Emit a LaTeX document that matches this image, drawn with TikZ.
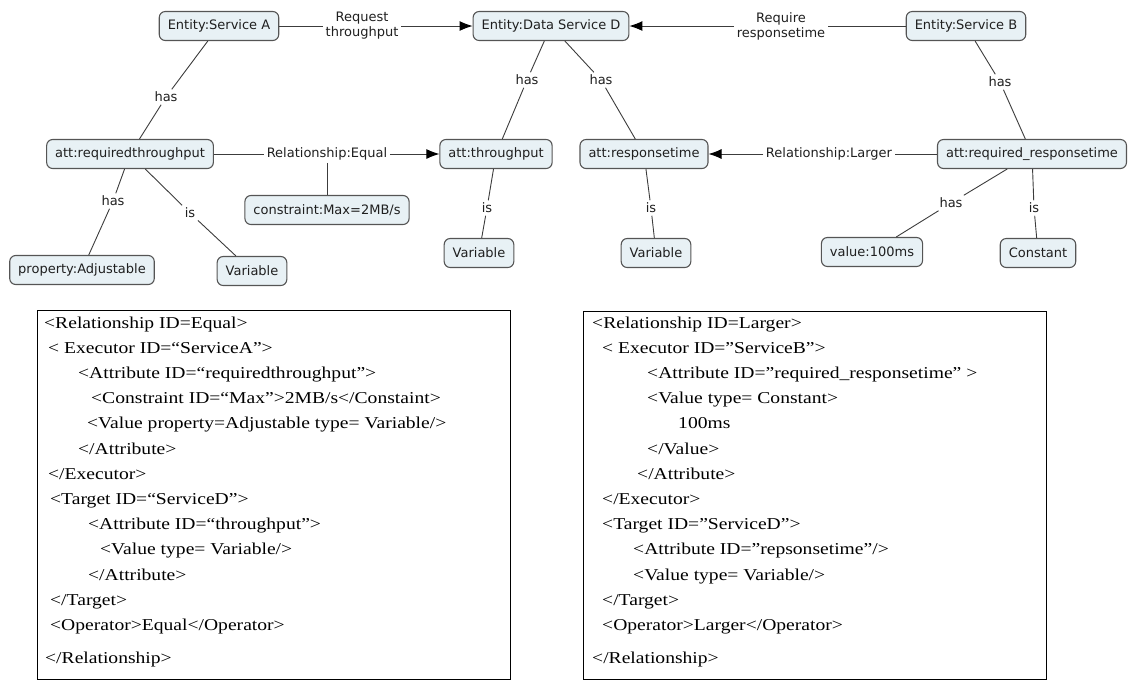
\documentclass[tikz,border=0pt]{standalone}
\usepackage{fontspec}
\usetikzlibrary{arrows.meta}
\newfontfamily\mapfont{DejaVu Sans}
\newfontfamily\xmlfont[FakeStretch=1.18]{Liberation Serif}
\definecolor{nodefill}{RGB}{232,241,245}
\definecolor{nodeline}{RGB}{85,85,85}
\definecolor{linkcol}{RGB}{60,60,60}

\begin{document}
\begin{tikzpicture}[x=1pt,y=-1pt,
  concept/.style={draw=nodeline, fill=nodefill, line width=1.1pt, rounded corners=6pt,
    font=\mapfont\fontsize{13}{15}\selectfont, minimum height=29pt,
    inner xsep=8.5pt, inner ysep=2pt, text=black!88},
  linklabel/.style={font=\mapfont\fontsize{13}{15}\selectfont, inner sep=2.5pt,
    align=center, text=black!88},
  link/.style={draw=linkcol, line width=0.9pt},
  arrowlink/.style={link, -{Latex[length=13pt,width=10pt,color=black]}},
  xmlbox/.style={draw=black, line width=1.2pt, inner sep=0pt},
  xml/.style={font=\xmlfont\fontsize{16.6}{19}\selectfont, anchor=base west, inner sep=0pt},
]
\useasboundingbox (0,0) rectangle (1132,681);

% ---- concept map: entities ----
\node[concept] (sa) at (219,26) {Entity:Service A};
\node[concept] (sd) at (551,26) {Entity:Data Service D};
\node[concept] (sb) at (966,26) {Entity:Service B};
\node[linklabel] (req) at (362,26) {Request\\throughput};
\node[linklabel] (rsp) at (781,26) {Require\\responsetime};

% ---- attributes ----
\node[concept] (rt) at (130,154) {att:requiredthroughput};
\node[linklabel] (eq) at (327,154) {Relationship:Equal};
\node[concept] (tp) at (496,154) {att:throughput};
\node[concept] (rs) at (644,154) {att:responsetime};
\node[linklabel] (lg) at (829,154) {Relationship:Larger};
\node[concept] (rr) at (1032,154) {att:required\_responsetime};
\node[concept] (cm) at (327,210) {constraint:Max=2MB/s};

% ---- values ----
\node[concept] (pa) at (82,270) {property:Adjustable};
\node[concept] (v1) at (252,271) {Variable};
\node[concept] (v2) at (479,253) {Variable};
\node[concept] (v3) at (656,253) {Variable};
\node[concept] (vm) at (872,252) {value:100ms};
\node[concept] (ct) at (1038,253) {Constant};

% ---- link phrases ----
\node[linklabel] (h1) at (166,97) {has};
\node[linklabel] (h2) at (527,80) {has};
\node[linklabel] (h3) at (601,80) {has};
\node[linklabel] (h4) at (1000,82) {has};
\node[linklabel] (h5) at (113,201) {has};
\node[linklabel] (i1) at (190,213) {is};
\node[linklabel] (i2) at (487,208) {is};
\node[linklabel] (i3) at (651,208) {is};
\node[linklabel] (h6) at (951,203) {has};
\node[linklabel] (i4) at (1034,208) {is};

% ---- connectors ----
\draw[link] (sa) -- (req);
\draw[arrowlink] (req) -- (sd);
\draw[link] (sb) -- (rsp);
\draw[arrowlink] (rsp) -- (sd);

\draw[link] (sa) -- (h1); \draw[link] (h1) -- (rt);
\draw[link] (sd) -- (h2); \draw[link] (h2) -- (tp);
\draw[link] (sd) -- (h3); \draw[link] (h3) -- (rs);
\draw[link] (sb) -- (h4); \draw[link] (h4) -- (rr);

\draw[link] (rt) -- (eq);
\draw[arrowlink] (eq) -- (tp);
\draw[link] (eq) -- (cm);
\draw[link] (rr) -- (lg);
\draw[arrowlink] (lg) -- (rs);

\draw[link] (rt) -- (h5); \draw[link] (h5) -- (pa);
\draw[link] (rt) -- (i1); \draw[link] (i1) -- (v1);
\draw[link] (tp) -- (i2); \draw[link] (i2) -- (v2);
\draw[link] (rs) -- (i3); \draw[link] (i3) -- (v3);
\draw[link] (rr) -- (h6); \draw[link] (h6) -- (vm);
\draw[link] (rr) -- (i4); \draw[link] (i4) -- (ct);

% ---- XML listings ----
\node[xmlbox, anchor=north west, minimum width=473pt, minimum height=369pt] (lbox) at (37,310) {};
\node[xmlbox, anchor=north west, minimum width=463pt, minimum height=368pt] (rbox) at (583,311) {};

\node[xml] (l1)  at (44,328)    {<Relationship ID=Equal>};
\node[xml] (l2)  at (48,353.2)  {< Executor ID=“ServiceA”>};
\node[xml] (l3)  at (78,378.4)  {<Attribute ID=“requiredthroughput”>};
\node[xml] (l4)  at (91,403.6)  {<Constraint ID=“Max”>2MB/s</Constaint>};
\node[xml] (l5)  at (87,428.8)  {<Value property=Adjustable type= Variable/>};
\node[xml] (l6)  at (78,454)    {</Attribute>};
\node[xml] (l7)  at (48,479.2)  {</Executor>};
\node[xml] (l8)  at (50,504.4)  {<Target ID=“ServiceD”>};
\node[xml] (l9)  at (88,529.6)  {<Attribute ID=“throughput”>};
\node[xml] (l10) at (100,554.8) {<Value type= Variable/>};
\node[xml] (l11) at (88,580)    {</Attribute>};
\node[xml] (l12) at (50,605.2)  {</Target>};
\node[xml] (l13) at (50,630.4)  {<Operator>Equal</Operator>};
\node[xml] (l14) at (45,663)    {</Relationship>};

\node[xml] (r1)  at (592,328)   {<Relationship ID=Larger>};
\node[xml] (r2)  at (602,353.2) {< Executor ID=”ServiceB”>};
\node[xml] (r3)  at (647,378.4) {<Attribute ID=”required\_responsetime” >};
\node[xml] (r4)  at (647,403.6) {<Value type= Constant>};
\node[xml] (r5)  at (678,428.8) {100ms};
\node[xml] (r6)  at (647,454)   {</Value>};
\node[xml] (r7)  at (637,479.2) {</Attribute>};
\node[xml] (r8)  at (602,504.4) {</Executor>};
\node[xml] (r9)  at (602,529.6) {<Target ID=”ServiceD”>};
\node[xml] (r10) at (633,554.8) {<Attribute ID=”repsonsetime”/>};
\node[xml] (r11) at (633,580)   {<Value type= Variable/>};
\node[xml] (r12) at (602,605.2) {</Target>};
\node[xml] (r13) at (602,630.4) {<Operator>Larger</Operator>};
\node[xml] (r14) at (592,663)   {</Relationship>};
\end{tikzpicture}
\end{document}
